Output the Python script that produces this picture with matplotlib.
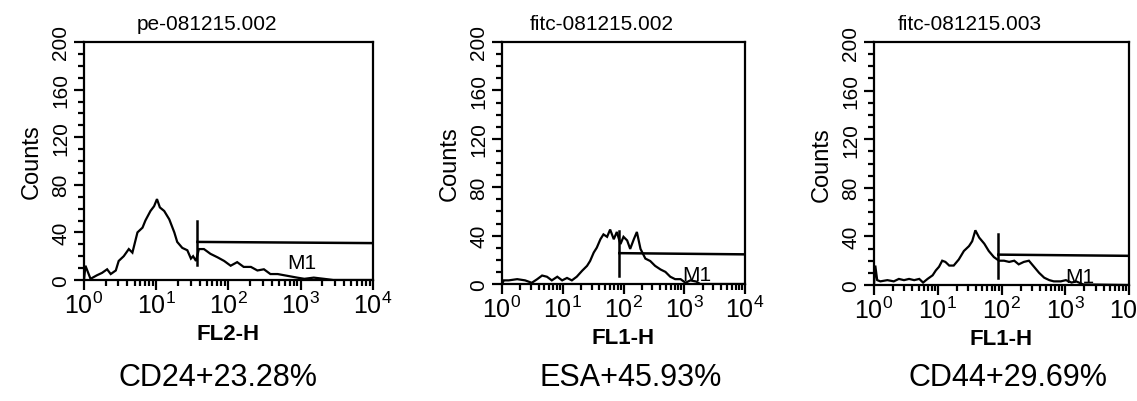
import numpy as np
import matplotlib
matplotlib.use("Agg")
import matplotlib.pyplot as plt
from matplotlib.ticker import FixedLocator, FuncFormatter, NullFormatter

# ---------------- data ----------------
titles = ["pe-081215.002", "fitc-081215.002", "fitc-081215.003"]
xlabels = ["FL2-H", "FL1-H", "FL1-H"]
captions = ["CD24+23.28%", "ESA+45.93%", "CD44+29.69%"]

# histogram traces: log10(fluorescence) and counts
p1_logx = [0.0, 0.02, 0.09, 0.18, 0.25, 0.32, 0.37, 0.44, 0.48, 0.55, 0.62, 0.67, 0.74, 0.81,
           0.85, 0.92, 0.97, 1.01, 1.05, 1.11, 1.18, 1.25, 1.29, 1.36, 1.43, 1.48, 1.51, 1.55,
           1.59, 1.66, 1.75, 1.85, 1.94, 2.03, 2.12, 2.21, 2.31, 2.40, 2.49, 2.58, 2.68, 2.77,
           2.86, 2.95, 3.05, 3.18, 3.32, 3.45, 4.0]
p1_cnt = [0, 12, 1, 4, 6, 9, 5, 8, 16, 20, 26, 23, 40, 44,
          50, 58, 62, 68, 61, 58, 51, 40, 32, 27, 25, 18, 20, 16,
          26, 26, 22, 19, 16, 12, 15, 11, 11, 8, 9, 5, 5, 4,
          3, 2, 1, 2, 1, 0, 0]

p2_logx = [0.0, 0.03, 0.11, 0.25, 0.38, 0.49, 0.58, 0.66, 0.74, 0.82, 0.91, 0.99, 1.07, 1.15,
           1.23, 1.32, 1.40, 1.45, 1.51, 1.56, 1.62, 1.67, 1.73, 1.78, 1.84, 1.89, 1.95, 2.00,
           2.06, 2.11, 2.17, 2.22, 2.28, 2.36, 2.44, 2.52, 2.61, 2.69, 2.77, 2.85, 2.94, 3.02,
           3.10, 3.20, 3.26, 4.0]
p2_cnt = [0, 3, 3, 4, 3, 1, 4, 7, 6, 3, 6, 3, 5, 3,
          6, 11, 15, 19, 26, 30, 37, 41, 39, 45, 37, 43, 33, 39,
          36, 29, 37, 43, 29, 21, 19, 15, 12, 10, 6, 4, 4, 1,
          3, 2, 0, 0]

p3_logx = [0.0, 0.02, 0.05, 0.10, 0.21, 0.31, 0.39, 0.47, 0.55, 0.63, 0.71, 0.77, 0.84, 0.92,
           0.97, 1.02, 1.07, 1.12, 1.18, 1.25, 1.33, 1.41, 1.49, 1.54, 1.59, 1.65, 1.73, 1.80,
           1.88, 1.96, 2.04, 2.12, 2.20, 2.27, 2.35, 2.43, 2.51, 2.59, 2.67, 2.75, 2.82, 2.93,
           3.01, 3.10, 3.17, 3.28, 4.0]
p3_cnt = [0, 16, 4, 3, 4, 3, 5, 4, 5, 4, 5, 2, 5, 8,
          12, 15, 20, 19, 16, 16, 21, 28, 32, 36, 45, 39, 34, 28,
          23, 20, 20, 19, 20, 17, 19, 20, 15, 10, 6, 4, 3, 3,
          4, 2, 3, 0.5, 0]

traces = [(p1_logx, p1_cnt), (p2_logx, p2_cnt), (p3_logx, p3_cnt)]

# M1 marker: gate start (log10), bar level, vertical extent, label position
gate_start = [1.57, 1.93, 1.95]
gate_level = [32, 25.5, 25]
gate_vlow = [13, 7, 6]
gate_vhigh = [50, 44, 42]
m1_pos = [(3.02, 15), (3.2, 8), (3.23, 7)]

y_ticks = [0, 40, 80, 120, 160, 200]
x_decades = [1, 10, 100, 1000, 10000]

# ---------------- layout ----------------
W, H = 1137, 402
fig = plt.figure(figsize=(W / 100, H / 100), dpi=100)

boxes = [(84, 373, 43, 281), (502, 745, 43, 285), (874, 1129, 43, 286)]
title_x = [207, 602, 970]
cap_x = [218, 631, 1008]

sans = ["Liberation Sans", "DejaVu Sans"]

def sup_fmt(v, pos):
    return r"$\mathregular{10^{%d}}$" % int(round(np.log10(v)))

minor_x = [m * d for d in x_decades[:-1] for m in range(2, 10)]

for i in range(3):
    l, r, t, b = boxes[i]
    ax = fig.add_axes([l / W, (H - b) / H, (r - l) / W, (b - t) / H])
    lx, cnt = traces[i]
    xs = 10 ** np.array(lx)
    ax.plot(xs, cnt, color="black", lw=1.6, solid_joinstyle="miter")
    ax.set_xscale("log")
    ax.set_xlim(1, 1e4)
    ax.set_ylim(0, 200)

    # M1 gate
    gs = 10 ** gate_start[i]
    ax.plot([gs, gs], [gate_vlow[i], gate_vhigh[i]], color="black", lw=1.8)
    ax.plot([gs, 1e4], [gate_level[i], gate_level[i] - 1], color="black", lw=1.8)
    ax.text(10 ** m1_pos[i][0], m1_pos[i][1], "M1", fontsize=15, family=sans,
            ha="center", va="center")

    for s in ax.spines.values():
        s.set_linewidth(1.6)

    ax.yaxis.set_major_locator(FixedLocator(y_ticks))
    ax.yaxis.set_minor_locator(FixedLocator([v for v in range(0, 201, 10) if v % 40]))
    ax.tick_params(axis="y", which="major", length=7, width=1.6, direction="out", pad=3)
    ax.tick_params(axis="y", which="minor", length=4, width=1.6, direction="out")
    ax.set_yticklabels([str(v) for v in y_ticks], rotation=90,
                       va="center", fontsize=15, family=sans)

    ax.xaxis.set_major_locator(FixedLocator(x_decades))
    ax.xaxis.set_minor_locator(FixedLocator(minor_x))
    ax.xaxis.set_major_formatter(FuncFormatter(sup_fmt))
    ax.xaxis.set_minor_formatter(NullFormatter())
    ax.tick_params(axis="x", which="major", length=7, width=1.6, direction="out", pad=1,
                   labelsize=18)
    ax.tick_params(axis="x", which="minor", length=4, width=1.6, direction="out")
    for lab in ax.get_xticklabels():
        lab.set_family(sans)

    ax.set_ylabel("Counts", fontsize=17, family=sans, labelpad=6)
    ax.set_xlabel(xlabels[i], fontsize=16, family=sans, fontweight="bold", labelpad=4)

    fig.text(title_x[i] / W, 1 - 25 / H, titles[i], fontsize=15, family=sans,
             ha="center", va="center")
    fig.text(cap_x[i] / W, 1 - 378 / H, captions[i], fontsize=22, family=sans,
             ha="center", va="center")

fig.savefig("out.png", dpi=100, facecolor="white")
